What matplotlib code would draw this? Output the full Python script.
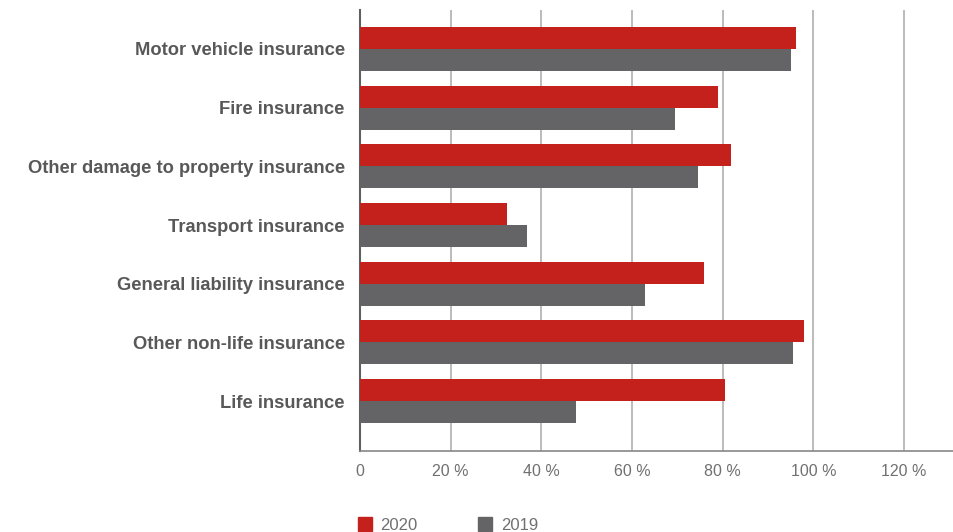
import matplotlib
matplotlib.use("Agg")
import matplotlib.pyplot as plt
from matplotlib.patches import Patch
import numpy as np

categories = ["Motor vehicle insurance", "Fire insurance", "Other damage to property insurance",
              "Transport insurance", "General liability insurance", "Other non-life insurance",
              "Life insurance"]
values_2020 = [96.1, 79.0, 81.9, 32.4, 75.9, 98.0, 80.4]
values_2019 = [95.0, 69.5, 74.6, 36.8, 62.9, 95.4, 47.6]
xticks = [0, 20, 40, 60, 80, 100, 120]
xtick_labels = ["0", "20 %", "40 %", "60 %", "80 %", "100 %", "120 %"]

RED = "#C4211C"
GRAY = "#646466"
TXT = "#585858"

fig = plt.figure(figsize=(9.54, 5.32), dpi=100)
ax = fig.add_axes([360/954, 1-451/532, 1-360/954, (451-10)/532])

y = np.arange(len(categories))
h = 0.375
ax.barh(y - h/2, values_2020, height=h, color=RED, zorder=3, label="2020")
ax.barh(y + h/2, values_2019, height=h, color=GRAY, zorder=3, label="2019")

ax.set_xlim(0, 131)
ax.set_ylim(6.85, -0.664)
ax.set_xticks(xticks)
ax.set_xticklabels(xtick_labels, color="#707070", fontsize=11.5,
                   family=["Liberation Sans", "DejaVu Sans"])
ax.set_yticks(y)
ax.set_yticklabels(categories, fontsize=13.2, fontweight="bold", color=TXT,
                   family=["Liberation Sans", "DejaVu Sans"])
ax.tick_params(axis="both", length=0)
ax.tick_params(axis="x", pad=9)
ax.tick_params(axis="y", pad=11)

for xv in xticks[1:]:
    ax.axvline(xv, color="#b0b0b0", lw=1.2, zorder=1)

for s in ["top", "right"]:
    ax.spines[s].set_visible(False)
ax.spines["left"].set_color("#606060")
ax.spines["left"].set_linewidth(1.5)
ax.spines["bottom"].set_color("#888888")
ax.spines["bottom"].set_linewidth(1.2)

handles = [Patch(color=RED, label="2020"), Patch(color=GRAY, label="2019")]
leg = fig.legend(handles=handles, loc="center left", bbox_to_anchor=(351/954, 1-525/532),
                 ncol=2, frameon=False, handlelength=0.85, handleheight=0.85,
                 handletextpad=0.5, columnspacing=3.65, borderaxespad=0,
                 prop={"family": ["Liberation Sans", "DejaVu Sans"], "size": 12})
for t in leg.get_texts():
    t.set_color("#707070")

fig.savefig("out.png", dpi=100)
